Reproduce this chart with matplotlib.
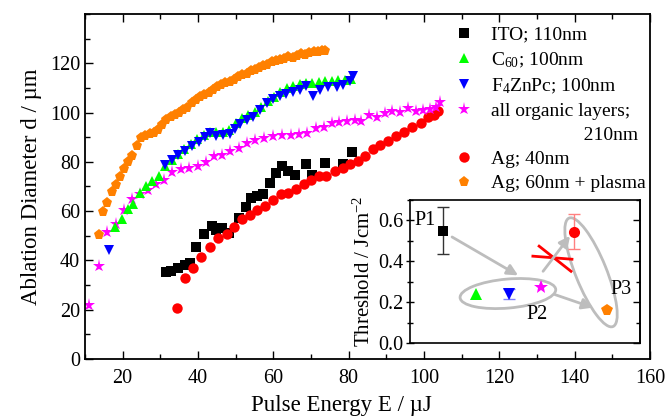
import matplotlib
matplotlib.use("Agg")
import matplotlib.pyplot as plt
from matplotlib.patches import Ellipse
from matplotlib.transforms import ScaledTranslation
from matplotlib.lines import Line2D
from matplotlib.ticker import MultipleLocator, FormatStrFormatter

plt.rcParams["font.family"] = ["Liberation Serif", "DejaVu Serif"]
plt.rcParams["mathtext.fontset"] = "custom"
plt.rcParams["mathtext.rm"] = "Liberation Serif"
plt.rcParams["mathtext.it"] = "Liberation Serif:italic"

# ITO; 110nm
ito_e = [31.4, 32.9, 34.7, 36.5, 38.0, 39.6, 41.5, 43.6, 44.9, 46.3, 48.3, 50.9, 52.7,
         54.2, 55.7, 57.3, 59.1, 60.8, 62.4, 63.9, 65.7, 68.8, 70.4, 73.7, 78.5, 81.0]
ito_d = [35.3, 35.9, 36.9, 38.2, 38.9, 45.6, 50.7, 53.8, 52.3, 53.1, 51.2, 57.2, 61.7,
         65.2, 66.1, 66.8, 71.5, 75.5, 78.2, 76.2, 74.6, 79.1, 74.8, 79.5, 79.2, 83.9]

# C60; 100nm
c60_e = [17.9, 19.7, 21.3, 22.8, 24.5, 26.3, 27.9, 29.6, 31.3, 33.0, 34.7, 36.4, 38.1,
         39.8, 41.5, 43.2, 44.9, 46.6, 48.3, 50.0, 51.7, 53.4, 55.1, 56.8, 58.5, 60.2,
         61.9, 63.6, 65.3, 67.0, 68.7, 70.4, 72.1, 73.8, 75.5, 77.2, 78.9, 80.6]
c60_d = [53.4, 56.7, 60.8, 63.0, 67.4, 70.4, 72.2, 74.4, 78.2, 80.9, 83.0, 85.3, 87.2,
         89.3, 91.0, 92.3, 92.0, 92.3, 93.0, 95.9, 97.7, 99.2, 100.4, 102.4, 104.6, 106.4,
         108.3, 110.1, 110.9, 111.5, 111.9, 112.2, 112.5, 112.8, 113.0, 113.4, 113.1, 113.7]

# F4ZnPc; 100nm
znpc_e = [16.3, 31.2, 33.0, 34.8, 36.6, 38.4, 40.2, 41.9, 43.1, 44.9, 46.7, 48.4, 49.8,
          51.1, 52.9, 54.6, 56.4, 58.2, 60.0, 61.7, 63.5, 65.2, 67.0, 68.8, 70.6, 72.3,
          74.6, 76.8, 78.6, 80.4, 81.2]
znpc_d = [44.4, 78.9, 80.6, 82.6, 84.4, 86.4, 88.0, 90.2, 91.6, 90.3, 90.9, 91.3, 93.4,
          95.2, 97.0, 98.3, 101.0, 103.7, 105.7, 106.8, 107.7, 108.4, 109.0, 110.8, 106.8, 109.0,
          110.4, 110.4, 111.2, 113.0, 115.0]

# all organic layers; 210nm
org_e = [11.2, 13.6, 15.9, 18.2, 20.4, 22.5, 24.5, 26.7, 28.8, 30.9, 33.2, 35.4, 37.6,
         39.9, 42.1, 44.3, 46.5, 48.6, 50.8, 52.9, 55.1, 57.5, 60.0, 62.4, 64.6, 66.8,
         69.0, 71.2, 73.4, 75.5, 77.4, 79.5, 81.6, 83.4, 85.3, 87.4, 89.6, 91.5, 93.6,
         95.8, 97.8, 99.8, 101.6, 103.1, 104.2]
org_d = [21.8, 37.7, 51.4, 54.7, 60.4, 65.0, 66.8, 68.5, 71.2, 72.8, 75.8, 76.9, 77.5,
         78.2, 79.9, 82.5, 82.9, 84.6, 85.8, 87.6, 88.9, 89.6, 90.3, 90.9, 91.0, 91.2,
         91.6, 93.6, 94.3, 95.6, 96.3, 96.6, 97.0, 96.4, 99.0, 98.4, 99.8, 100.6, 100.3,
         101.9, 100.6, 101.0, 101.4, 102.3, 104.3]

# Ag; 40nm
ag40_e = [34.4, 36.6, 38.7, 40.9, 43.2, 45.4, 47.6, 49.6, 51.6, 53.7, 55.8, 57.9, 60.0,
          62.0, 63.9, 66.1, 68.1, 70.1, 72.2, 74.1, 76.3, 78.4, 80.3, 82.4, 84.3, 86.4,
          88.3, 90.4, 92.7, 94.7, 96.9, 99.1, 101.1, 102.7, 103.8]
ag40_d = [20.5, 33.0, 36.9, 41.3, 45.3, 48.9, 50.9, 53.4, 57.0, 58.4, 60.5, 62.1, 64.5,
          66.8, 67.4, 68.8, 71.1, 72.6, 74.2, 74.2, 76.2, 77.5, 79.0, 80.2, 82.5, 85.2,
          87.0, 88.4, 90.3, 92.3, 94.3, 95.6, 98.3, 99.0, 100.6]

# Ag; 60nm + plasma
ag60_e = [13.6, 14.8, 15.8, 17.1, 18.3, 19.4, 20.4, 21.5, 22.6, 23.7, 24.9, 26.0, 27.2,
          28.3, 29.4, 30.5, 31.6, 32.8, 33.9, 35.0, 36.1, 37.2, 38.3, 39.5, 40.6, 41.7,
          42.8, 43.9, 45.0, 46.2, 47.3, 48.4, 49.5, 50.6, 51.7, 52.9, 54.0, 55.1, 56.2,
          57.3, 58.4, 59.6, 60.7, 61.8, 62.9, 64.0, 65.1, 66.3, 67.4, 68.5, 69.6, 70.7,
          71.8, 73.0, 73.6]
ag60_d = [50.3, 59.8, 63.2, 67.6, 70.6, 73.8, 76.9, 79.9, 82.3, 86.5, 89.8, 90.5, 91.2,
          91.6, 93.0, 94.8, 97.0, 98.0, 99.2, 100.0, 100.9, 101.9, 103.8, 105.0, 106.3, 107.2,
          107.9, 109.0, 110.2, 111.0, 112.0, 112.6, 113.1, 114.3, 115.1, 115.7, 116.8, 117.3, 118.1,
          118.9, 119.4, 120.4, 120.8, 121.4, 121.8, 122.4, 122.2, 123.1, 123.6, 123.3, 124.0, 124.5,
          124.4, 125.1, 124.8]

# inset: threshold fluence per layer
thr_x = [1, 2, 3, 4, 5, 6]
thr_y = [0.55, 0.24, 0.24, 0.275, 0.545, 0.16]
thr_err = [0.115, 0.0, 0.025, 0.0, 0.085, 0.0]

colors = ["black", "#00ff00", "#0000ff", "#ff00ff", "#ff0000", "#ff8000"]
markers = ["s", "^", "v", "*", "o", "p"]
sizes = [6.5, 7.5, 7.5, 9.5, 7.5, 8]

fig = plt.figure(figsize=(6.67, 4.19), dpi=100)
ax = fig.add_axes([0.1274, 0.1432, 0.8471, 0.8234])

series = [(ito_e, ito_d), (c60_e, c60_d), (znpc_e, znpc_d), (org_e, org_d),
          (ag40_e, ag40_d), (ag60_e, ag60_d)]
order = [0, 4, 3, 1, 2, 5]
for i in order:
    e, d = series[i]
    ax.plot(e, d, linestyle="none", marker=markers[i], color=colors[i],
            markersize=sizes[i], markeredgewidth=0)

ax.set_xlim(10, 160)
ax.set_ylim(0, 140)
ax.xaxis.set_major_locator(MultipleLocator(20))
ax.xaxis.set_minor_locator(MultipleLocator(10))
ax.yaxis.set_major_locator(MultipleLocator(20))
ax.yaxis.set_minor_locator(MultipleLocator(10))
ax.set_yticks([0, 20, 40, 60, 80, 100, 120])
ax.tick_params(which="both", direction="in", top=True, right=False, labelsize=14.5, width=1)
ax.tick_params(which="major", length=6)
ax.tick_params(which="minor", length=3.5)
ax.tick_params(axis="x", pad=7)
for s in ax.spines.values():
    s.set_linewidth(1.3)
ax.set_xlabel("Pulse Energy E / µJ", fontsize=16.5)
ax.xaxis.set_label_coords(0.453, -0.105)
ax.set_ylabel("Ablation Diameter d / µm", fontsize=16.5, labelpad=6)

labels = ["ITO; 110nm", "C$_{\\mathregular{60}}$; 100nm", "F$_{\\mathregular{4}}$ZnPc; 100nm",
          "all organic layers;", "                   210nm", "Ag; 40nm", "Ag; 60nm + plasma"]
handles = []
for i in range(6):
    handles.append(Line2D([], [], linestyle="none", marker=markers[i], color=colors[i],
                          markersize=sizes[i], markeredgewidth=0))
handles.insert(4, Line2D([], [], linestyle="none"))
ax.legend(handles, labels, loc="upper left", bbox_to_anchor=(0.63, 1.005), frameon=False,
          fontsize=14, handlelength=1.0, handletextpad=0.9, labelspacing=0.34,
          borderaxespad=0.3)

# inset
ins = fig.add_axes([0.6147, 0.1814, 0.3448, 0.3413])
ins.set_xlim(0, 7)
ins.set_ylim(0, 0.7)
ins.set_xticks([])
ins.yaxis.set_major_locator(MultipleLocator(0.2))
ins.yaxis.set_minor_locator(MultipleLocator(0.1))
ins.yaxis.set_major_formatter(FormatStrFormatter("%.1f"))
ins.tick_params(axis="y", which="both", direction="inout", left=True, right=False,
                labelsize=14.5, width=1, pad=2)
ins.tick_params(axis="y", which="major", length=6)
ins.tick_params(axis="y", which="minor", length=4)
sec = ins.secondary_yaxis("right")
sec.yaxis.set_major_locator(MultipleLocator(0.2))
sec.yaxis.set_minor_locator(MultipleLocator(0.1))
sec.tick_params(which="both", direction="in", labelright=False, width=1)
sec.tick_params(which="major", length=5)
sec.tick_params(which="minor", length=3)
for s in list(ins.spines.values()) + list(sec.spines.values()):
    s.set_linewidth(1.2)
ins.set_ylabel("Threshold / Jcm$^{\\mathregular{-2}}$", fontsize=15, labelpad=2)

err_colors = ["#333333", "none", "#8080ff", "none", "#ff8080", "none"]
for i in range(6):
    if thr_err[i] > 0:
        ins.errorbar(thr_x[i], thr_y[i], yerr=thr_err[i], fmt="none",
                     ecolor=err_colors[i], elinewidth=1, capsize=4, capthick=1)
    ins.plot(thr_x[i], thr_y[i], linestyle="none", marker=markers[i], color=colors[i],
             markersize=sizes[i] + 0.5, markeredgewidth=0, zorder=5)

gray = "#bdbdbd"


def ellipse(cx, cy, w_px, h_px, ang):
    tr = fig.dpi_scale_trans + ScaledTranslation(cx, cy, ins.transData)
    e = Ellipse((0, 0), w_px / 100, h_px / 100, angle=ang, transform=tr,
                fill=False, edgecolor=gray, lw=2)
    ins.add_patch(e)


ellipse(2.98, 0.242, 96, 29, 5)
ellipse(5.51, 0.346, 117, 31, -68)

arrows = [((1.28, 0.519), (3.29, 0.331)),
          ((4.41, 0.237), (5.57, 0.173)),
          ((4.05, 0.351), (4.87, 0.524))]
for start, end in arrows:
    ins.annotate("", xy=end, xytext=start,
                 arrowprops=dict(arrowstyle="-|>", color=gray, lw=2, mutation_scale=16,
                                 shrinkA=0, shrinkB=0))

ins.plot([3.74, 4.93], [0.425, 0.410], color="#ff0000", lw=2)
ins.plot([3.93, 4.90], [0.474, 0.351], color="#ff0000", lw=2)

ins.text(0.15, 0.60, "P1", fontsize=14.5, va="center")
ins.text(3.55, 0.14, "P2", fontsize=14.5, va="center")
ins.text(6.1, 0.26, "P3", fontsize=14.5, va="center")

fig.savefig("out.png", dpi=100)
